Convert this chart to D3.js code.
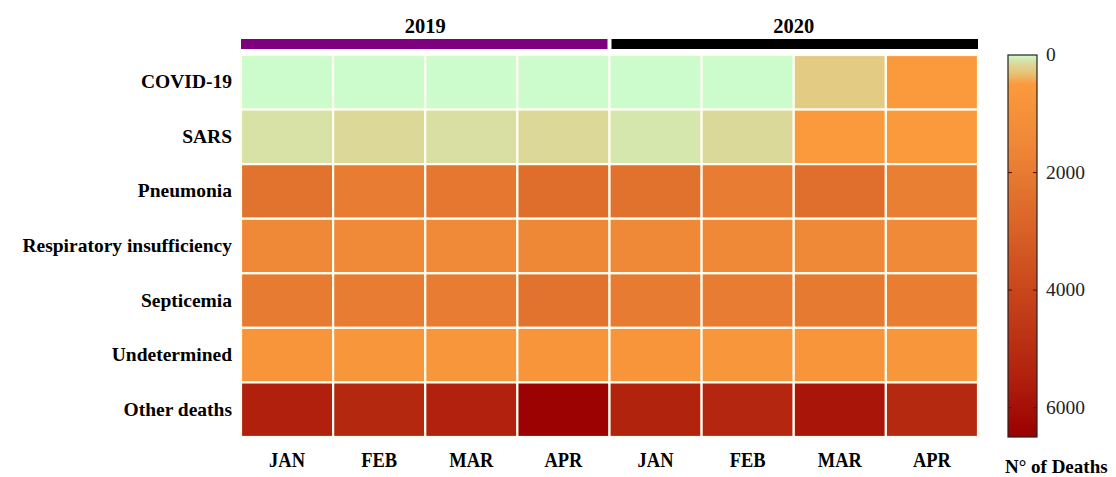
<!doctype html>
<html>
<head>
<meta charset="utf-8">
<title>Deaths heatmap</title>
<script src="https://d3js.org/d3.v7.min.js"></script>
<style>
  body { margin: 0; background: #fff; }
</style>
</head>
<body>
<script>
// data
var causes = ["COVID-19", "SARS", "Pneumonia", "Respiratory insufficiency",
              "Septicemia", "Undetermined", "Other deaths"];
var months = ["JAN", "FEB", "MAR", "APR", "JAN", "FEB", "MAR", "APR"];
var years = ["2019", "2020"];
var yearColors = ["#7f007f", "#000000"];

// deaths per cause, 2019 JAN..APR then 2020 JAN..APR
var covid      = [0, 0, 0, 0, 0, 0, 250, 520];
var sars       = [100, 150, 110, 150, 80, 140, 500, 520];
var pneumonia  = [2300, 1950, 2150, 2500, 2350, 1950, 2450, 1850];
var respirat   = [1450, 1400, 1400, 1550, 1450, 1450, 1500, 1400];
var septicemia = [2000, 1950, 1950, 2300, 2000, 1950, 2050, 1900];
var undeterm   = [760, 740, 750, 780, 760, 730, 760, 740];
var other      = [5500, 5200, 5450, 6450, 5400, 5250, 5800, 5150];
var values = [covid, sars, pneumonia, respirat, septicemia, undeterm, other];

var legendTicks = [0, 2000, 4000, 6000];

var W = 1116, H = 477;
var gx0 = 241, gx1 = 978, gy0 = 55, gy1 = 437;
var serif = "'Liberation Serif', 'DejaVu Serif', serif";

var svg = d3.select("body").append("svg")
    .attr("width", W).attr("height", H)
    .attr("font-family", serif)
    .style("font-family", serif);

var x = d3.scaleBand().domain(d3.range(months.length)).range([gx0, gx1]);
var y = d3.scaleBand().domain(causes).range([gy0, gy1]);

var color = d3.scaleLinear()
    .domain([0, 120, 300, 500, 1500, 2500, 4000, 5500, 6500])
    .range(["#ccfccc", "#dadc9e", "#e6c47a", "#fb9a3c", "#ef8837", "#df6e2c",
            "#c9461c", "#b0200d", "#9a0000"])
    .clamp(true);

// cells
var cells = [];
values.forEach(function(row, i) {
  row.forEach(function(v, j) { cells.push({cause: causes[i], col: j, v: v}); });
});
svg.append("g").selectAll("rect").data(cells).enter().append("rect")
    .attr("x", function(d) { return x(d.col); })
    .attr("y", function(d) { return y(d.cause); })
    .attr("width", x.bandwidth())
    .attr("height", y.bandwidth())
    .attr("fill", function(d) { return color(d.v); })
    .attr("stroke", "#fffdf0")
    .attr("stroke-width", 2.2);

// year bars
var yearBand = d3.scaleBand().domain(years).range([gx0, gx1]);
svg.append("g").selectAll("rect").data(years).enter().append("rect")
    .attr("x", function(d, i) { return yearBand(d) + (i ? 2 : 0); })
    .attr("y", 39)
    .attr("width", function(d, i) { return yearBand.bandwidth() - 2; })
    .attr("height", 10)
    .attr("fill", function(d, i) { return yearColors[i]; });
svg.append("g").selectAll("text").data(years).enter().append("text")
    .attr("x", function(d) { return yearBand(d) + yearBand.bandwidth() / 2; })
    .attr("y", 33)
    .attr("text-anchor", "middle")
    .attr("font-weight", "bold")
    .attr("font-size", 20.5)
    .text(function(d) { return d; });

// row labels
svg.append("g").selectAll("text").data(causes).enter().append("text")
    .attr("x", 232)
    .attr("y", function(d) { return y(d) + y.bandwidth() / 2 + 6; })
    .attr("text-anchor", "end")
    .attr("font-weight", "bold")
    .attr("font-size", 19.5)
    .text(function(d) { return d; });

// month labels
svg.append("g").selectAll("text").data(months).enter().append("text")
    .attr("transform", function(d, i) {
      return "translate(" + (x(i) + x.bandwidth() / 2) + ",467) scale(0.84,1)";
    })
    .attr("text-anchor", "middle")
    .attr("font-weight", "bold")
    .attr("font-size", 22)
    .text(function(d) { return d; });

// colour bar
var lx = 1008, lw = 29;
var ly = d3.scaleLinear().domain([0, 6500]).range([gy0, gy1]);
var defs = svg.append("defs");
var grad = defs.append("linearGradient").attr("id", "cbar")
    .attr("x1", 0).attr("y1", 0).attr("x2", 0).attr("y2", 1);
d3.range(0, 6501, 100).forEach(function(v) {
  grad.append("stop").attr("offset", v / 6500).attr("stop-color", color(v));
});
svg.append("rect")
    .attr("x", lx).attr("y", gy0).attr("width", lw).attr("height", gy1 - gy0)
    .attr("fill", "url(#cbar)")
    .attr("stroke", "#222").attr("stroke-width", 1.2);

var lg = svg.append("g");
lg.selectAll("line.l").data(legendTicks.slice(1)).enter().append("line")
    .attr("x1", lx).attr("x2", lx + 4)
    .attr("y1", function(d) { return ly(d); }).attr("y2", function(d) { return ly(d); })
    .attr("stroke", "#5a1a00").attr("stroke-width", 1.2);
lg.selectAll("line.r").data(legendTicks.slice(1)).enter().append("line")
    .attr("x1", lx + lw - 4).attr("x2", lx + lw)
    .attr("y1", function(d) { return ly(d); }).attr("y2", function(d) { return ly(d); })
    .attr("stroke", "#5a1a00").attr("stroke-width", 1.2);
lg.selectAll("text").data(legendTicks).enter().append("text")
    .attr("x", 1046)
    .attr("y", function(d) { return ly(d) + 6; })
    .attr("font-size", 19.5)
    .attr("fill", "#222")
    .text(function(d) { return d; });

svg.append("text")
    .attr("x", 1005).attr("y", 473)
    .attr("font-weight", "bold")
    .attr("font-size", 19)
    .text("N° of Deaths");
</script>
</body>
</html>
